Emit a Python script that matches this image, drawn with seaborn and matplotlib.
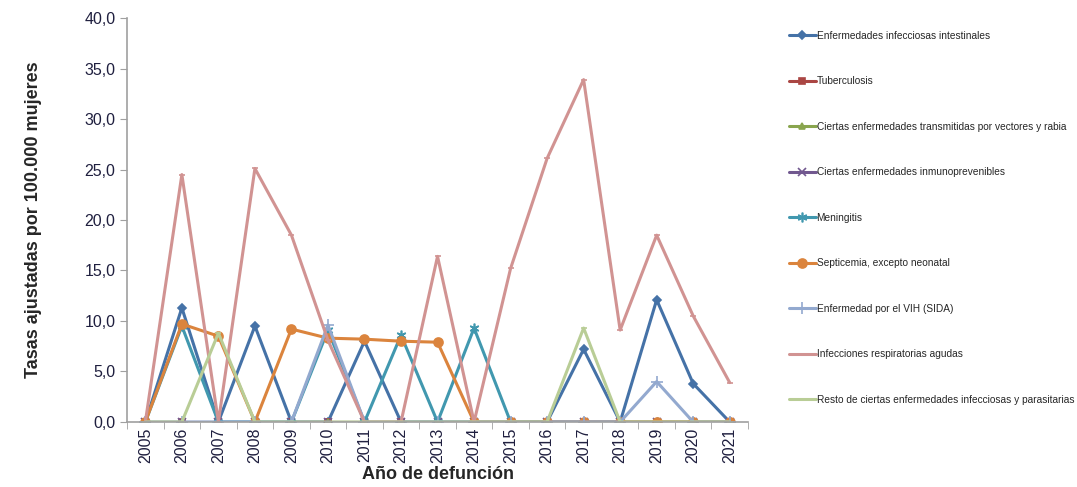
import numpy as np
import pandas as pd
import matplotlib
matplotlib.use("Agg")
import matplotlib.pyplot as plt
import seaborn as sns

# Tasas ajustadas por 100.000 mujeres, por año de defunción
anios = list(range(2005, 2022))

intestinales   = [0, 11.3, 0, 9.5, 0, 0, 8.0, 0, 0, 0, 0, 0, 7.2, 0, 12.1, 3.8, 0]
tuberculosis   = [0] * 17
vectores       = [0] * 17
inmunoprev     = [0] * 17
meningitis     = [0, 9.5, 0, 0, 0, 9.1, 0, 8.6, 0, 9.3, 0, 0, 0, 0, 0, 0, 0]
septicemia     = [0, 9.7, 8.5, 0, 9.2, 8.3, 8.2, 8.0, 7.9, 0, 0, 0, 0, 0, 0, 0, 0]
vih            = [0, 0, 0, 0, 0, 9.6, 0, 0, 0, 0, 0, 0, 0, 0, 4.0, 0, 0]
respiratorias  = [0, 24.5, 0, 25.1, 18.5, 8.1, 0, 0, 16.4, 0, 15.2, 26.1, 33.9, 9.1, 18.5, 10.5, 3.9]
resto          = [0, 0, 8.8, 0, 0, 0, 0, 0, 0, 0, 0, 0, 9.3, 0, 0, 0, 0]

series = {
    "Enfermedades infecciosas intestinales": intestinales,
    "Tuberculosis": tuberculosis,
    "Ciertas enfermedades transmitidas por vectores y rabia": vectores,
    "Ciertas enfermedades inmunoprevenibles": inmunoprev,
    "Meningitis": meningitis,
    "Septicemia, excepto neonatal": septicemia,
    "Enfermedad por el VIH (SIDA)": vih,
    "Infecciones respiratorias agudas": respiratorias,
    "Resto de ciertas enfermedades infecciosas y parasitarias": resto,
}
colores = ["#4572A7", "#AA4643", "#89A54E", "#71588F", "#4198AF",
           "#DB843D", "#93A9CF", "#D19392", "#B9CD96"]
marcadores = ["D", "s", "^", "x", (6, 2, 0), "o", "+", "_", "_"]
tamanos = [4.5, 5, 5, 6, 7, 6.5, 8, 5, 5]

df = pd.DataFrame([
    {"serie": nombre, "pos": i, "tasa": v}
    for nombre, valores in series.items() for i, v in enumerate(valores)
])

sns.set_style("white")
plt.rcParams["font.family"] = ["Liberation Sans", "DejaVu Sans"]

fig = plt.figure(figsize=(10.77, 4.87), dpi=100)
ax = fig.add_axes([0.118, 0.1335, 0.5765, 0.8295])

for (nombre, _), color, m, ms in zip(series.items(), colores, marcadores, tamanos):
    sns.lineplot(data=df[df["serie"] == nombre], x="pos", y="tasa", ax=ax,
                 color=color, marker=m, markersize=ms, linewidth=2.2,
                 markeredgecolor=color, markeredgewidth=1.2, label=nombre)

ax.set_xlim(-0.5, len(anios) - 0.5)
ax.set_ylim(0, 40)
ax.set_yticks(np.arange(0, 41, 5))
ax.set_yticklabels([f"{v:.1f}".replace(".", ",") for v in np.arange(0, 41, 5)],
                   fontsize=11.5, color="#1F1F3F")
ax.set_xticks(range(len(anios)))
ax.set_xticklabels([str(a) for a in anios], rotation=90, fontsize=11.5, color="#1F1F3F")
ax.set_xticks(np.arange(-0.5, len(anios), 1), minor=True)
ax.tick_params(axis="x", which="major", length=0, pad=4)
ax.tick_params(axis="x", which="minor", length=5, color="#A0A0A0", direction="out", bottom=True)
ax.tick_params(axis="y", length=5, color="#A0A0A0", direction="out", left=True)

for s in ["top", "right"]:
    ax.spines[s].set_visible(False)
for s in ["left", "bottom"]:
    ax.spines[s].set_color("#A0A0A0")
    ax.spines[s].set_linewidth(1.2)

ax.set_xlabel("Año de defunción", fontsize=13, fontweight="bold", labelpad=2)
ax.set_ylabel("Tasas ajustadas por 100.000 mujeres", fontsize=13, fontweight="bold", labelpad=30)

ax.legend(loc="upper left", bbox_to_anchor=(0.729, 0.945), bbox_transform=fig.transFigure,
          frameon=False, fontsize=7.3, labelspacing=3.5, handlelength=2.6,
          handletextpad=0.1, borderaxespad=0)

fig.savefig("out.png", dpi=100)
